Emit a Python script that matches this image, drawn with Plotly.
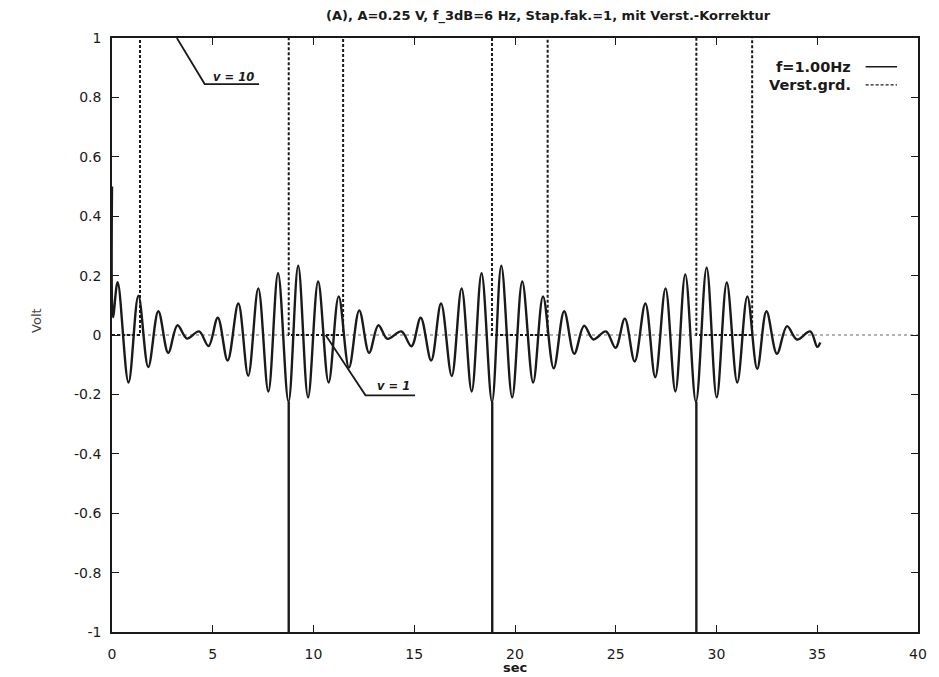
import plotly.graph_objects as go

# ---- data ----
# f=1.00Hz signal: turning points (time in s, value in V)
sig_t = [0.00, 0.05, 0.28, 0.82, 1.31, 1.80, 2.30, 2.79, 3.25, 3.72, 4.32, 4.79,
         5.25, 5.74, 6.27, 6.76, 7.26, 7.76, 8.24, 8.76, 9.24, 9.73, 10.23, 10.75,
         11.25, 11.76, 12.27, 12.76, 13.22, 13.67, 14.36, 14.86, 15.32, 15.84,
         16.33, 16.86, 17.35, 17.85, 18.34, 18.86, 19.32, 19.86, 20.36, 20.90,
         21.39, 21.92, 22.44, 22.94, 23.43, 23.89, 24.51, 24.99, 25.45, 25.94,
         26.47, 26.96, 27.47, 27.96, 28.45, 28.98, 29.51, 30.01, 30.51, 31.03,
         31.53, 32.02, 32.48, 33.00, 33.50, 33.99, 34.65, 35.00, 35.15]
sig_v = [0.50, 0.06, 0.178, -0.160, 0.132, -0.108, 0.080, -0.060, 0.033, -0.012, 0.012, -0.037,
         0.058, -0.086, 0.106, -0.137, 0.157, -0.190, 0.208, -0.225, 0.233, -0.210, 0.180, -0.160,
         0.130, -0.110, 0.083, -0.060, 0.033, -0.013, 0.012, -0.038, 0.058, -0.086,
         0.106, -0.138, 0.157, -0.190, 0.208, -0.225, 0.233, -0.210, 0.180, -0.160,
         0.130, -0.112, 0.080, -0.063, 0.031, -0.015, 0.012, -0.043, 0.055, -0.089,
         0.106, -0.142, 0.157, -0.190, 0.204, -0.225, 0.227, -0.210, 0.177, -0.160,
         0.130, -0.114, 0.080, -0.063, 0.030, -0.015, 0.012, -0.040, -0.025]

# switching spikes of the signal (time, from value, to value)
spike_t = [8.77, 18.87, 29.00]
spike_from = [-0.225, -0.225, -0.225]
spike_to = [-1.05, -1.05, -1.05]

# gain level (Verst.grd.): switch times and gain v
gain_t = [0.00, 1.39, 8.77, 11.47, 18.86, 21.62, 29.00, 31.77, 35.15]
gain_v = [1, 10, 1, 10, 1, 10, 1, 10, 10]

xtick_vals = [0, 5, 10, 15, 20, 25, 30, 35, 40]
ytick_vals = [1, 0.8, 0.6, 0.4, 0.2, 0, -0.2, -0.4, -0.6, -0.8, -1]
ytick_text = ["1", "0.8", "0.6", "0.4", "0.2", "0", "-0.2", "-0.4", "-0.6", "-0.8", "-1"]

title_text = "(A), A=0.25 V, f_3dB=6 Hz, Stap.fak.=1, mit Verst.-Korrektur"
legend_names = ["f=1.00Hz", "Verst.grd."]

FONT = "DejaVu Sans, Liberation Sans, Arial, sans-serif"
INK = "#1a1a1a"
DASH = "3px,2px"

fig = go.Figure()

fig.add_trace(go.Scatter(
    x=sig_t, y=sig_v, mode="lines", name=legend_names[0],
    line=dict(color=INK, width=2.4, shape="spline", smoothing=1.0),
    showlegend=False))

sx, sy = [], []
for t, a, b in zip(spike_t, spike_from, spike_to):
    sx += [t, t, None]
    sy += [a, b, None]
fig.add_trace(go.Scatter(x=sx, y=sy, mode="lines", line=dict(color=INK, width=2.4),
                         showlegend=False, hoverinfo="skip"))

fig.add_trace(go.Scatter(
    x=gain_t, y=[v - 1 for v in gain_v], mode="lines", name=legend_names[1],
    line=dict(color=INK, width=2.0, dash=DASH, shape="hv"),
    showlegend=False))

# zero axis (dotted)
fig.add_shape(type="line", xref="x", yref="y", x0=0, x1=40, y0=0, y1=0,
              line=dict(color="#666", width=1, dash="dot"), layer="below")

# legend (gnuplot style: text then sample)
leg_y = [0.9517, 0.921]
for name, yy, dash in zip(legend_names, leg_y, ["solid", DASH]):
    fig.add_annotation(xref="paper", yref="paper", x=0.919, y=yy, text="<b>" + name + "</b>",
                       showarrow=False, xanchor="right", yanchor="middle",
                       font=dict(family=FONT, size=14.5, color=INK))
    fig.add_shape(type="line", xref="paper", yref="paper", x0=0.935, x1=0.974, y0=yy, y1=yy,
                  line=dict(color=INK, width=1.5 if dash == "solid" else 1.3, dash=dash))

# hand-drawn labels
fig.add_shape(type="path", xref="x", yref="y",
              path="M 3.22 1.0 L 4.60 0.845 L 7.30 0.845",
              line=dict(color=INK, width=1.8))
fig.add_annotation(xref="x", yref="y", x=6.05, y=0.868, text="<b><i>v = 10</i></b>",
                   showarrow=False, font=dict(family=FONT, size=11.5, color=INK))
fig.add_shape(type="path", xref="x", yref="y",
              path="M 10.6 0.0 L 12.58 -0.203 L 15.04 -0.203",
              line=dict(color=INK, width=1.8))
fig.add_annotation(xref="x", yref="y", x=13.95, y=-0.172, text="<b><i>v = 1</i></b>",
                   showarrow=False, font=dict(family=FONT, size=11.5, color=INK))

# titles
fig.add_annotation(xref="paper", yref="paper", x=0.541, y=1.037, text="<b>" + title_text + "</b>",
                   showarrow=False, xanchor="center", yanchor="middle",
                   font=dict(family=FONT, size=13, color=INK))
fig.add_annotation(xref="paper", yref="paper", x=-0.0946, y=0.525, text="Volt", textangle=-90,
                   showarrow=False, xanchor="center", yanchor="middle",
                   font=dict(family=FONT, size=13, color="#444"))
fig.add_annotation(xref="paper", yref="paper", x=0.5, y=-0.0606, text="<b>sec</b>",
                   showarrow=False, xanchor="center", yanchor="middle",
                   font=dict(family=FONT, size=13, color=INK))

axis_common = dict(showline=True, linecolor=INK, linewidth=1.6, mirror="ticks",
                   ticks="inside", ticklen=7, tickwidth=1.2, tickcolor=INK,
                   showgrid=False, zeroline=False,
                   tickfont=dict(family=FONT, size=14, color=INK))

fig.update_xaxes(range=[0, 40], tickvals=xtick_vals, ticklabelstandoff=8, **axis_common)
fig.update_yaxes(range=[-1, 1], tickvals=ytick_vals, ticktext=ytick_text,
                 ticklabelstandoff=6, **axis_common)

# page body adds an 8px offset; size the figure so the plot area lands where the reference has it
fig.update_layout(width=931, height=669, autosize=False,
                  margin=dict(l=104, r=13, t=30, b=45),
                  paper_bgcolor="white", plot_bgcolor="white", showlegend=False)

fig.write_html("out.html")
